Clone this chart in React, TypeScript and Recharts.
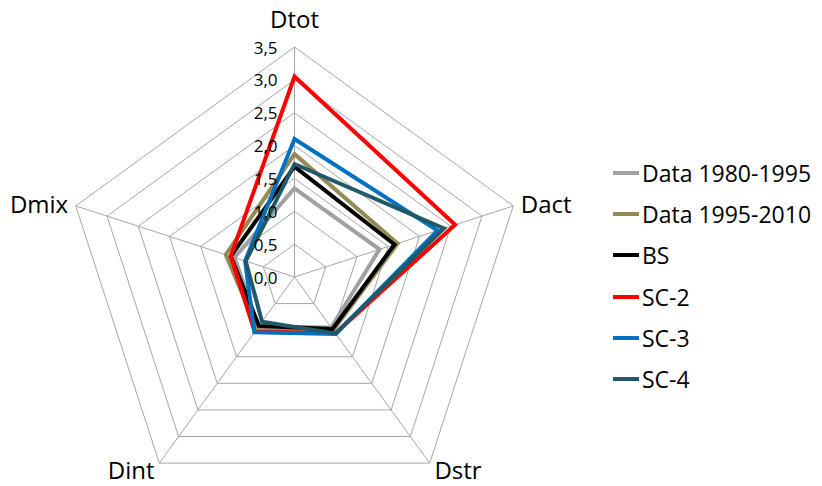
import React from 'react';
import { RadarChart, Radar, PolarGrid, PolarAngleAxis, PolarRadiusAxis } from 'recharts';

const axes = ['Dtot', 'Dact', 'Dstr', 'Dint', 'Dmix'];
const data8095 = [1.35, 1.36, 0.95, 0.93, 0.96];
const data9510 = [1.87, 1.65, 1.0, 0.97, 1.1];
const bs = [1.68, 1.6, 0.98, 0.92, 1.02];
const sc2 = [3.05, 2.57, 1.06, 1.03, 1.02];
const sc3 = [2.1, 2.29, 1.07, 1.04, 0.79];
const sc4 = [1.72, 2.39, 1.06, 0.84, 0.78];

const series = [
  { key: 'Data 1980-1995', values: data8095, color: '#a0a0a0' },
  { key: 'Data 1995-2010', values: data9510, color: '#948a54' },
  { key: 'BS', values: bs, color: '#000000' },
  { key: 'SC-2', values: sc2, color: '#ff0000' },
  { key: 'SC-3', values: sc3, color: '#0070c0' },
  { key: 'SC-4', values: sc4, color: '#215968' },
];

const chartData = axes.map((axis, i) => {
  const row: { [k: string]: number | string } = { axis };
  series.forEach(s => {
    row[s.key] = s.values[i];
  });
  return row;
});

const FONT = '"Open Sans", sans-serif';
const CX = 286.5;
const CY = 269;
const LABEL_R = 238;

function AngleTick(props: any) {
  const { x, y, payload } = props;
  const dx = x - CX;
  const dy = y - CY;
  const len = Math.sqrt(dx * dx + dy * dy) || 1;
  const lx = CX + (dx / len) * LABEL_R;
  const ly = CY + (dy / len) * LABEL_R;
  const c = dx / len;
  const anchor = c > 0.01 ? 'start' : c < -0.01 ? 'end' : 'middle';
  return (
    <text
      x={lx}
      y={anchor === 'middle' ? ly - 21 : ly}
      textAnchor={anchor}
      dominantBaseline="central"
      fontSize={24}
      fontFamily={FONT}
      fill="#000"
    >
      {payload.value}
    </text>
  );
}

function RadiusTick(props: any) {
  const { x, y, payload } = props;
  return (
    <text x={x - 17} y={y} textAnchor="end" dominantBaseline="central" fontSize={17} fontFamily={FONT} fill="#000">
      {Number(payload.value).toFixed(1).replace('.', ',')}
    </text>
  );
}

function LegendBox() {
  return (
    <div style={{ position: 'absolute', left: 605, top: 165, width: 200, fontFamily: FONT }}>
      {series.map((s, i) => (
        <div
          key={s.key}
          style={{ position: 'absolute', left: 0, top: i * 41.2 - 16, height: 32, display: 'flex', alignItems: 'center' }}
        >
          <div style={{ width: 26, height: 4, background: s.color }} />
          <span style={{ marginLeft: 3, fontSize: 23, color: '#000', whiteSpace: 'nowrap' }}>{s.key}</span>
        </div>
      ))}
    </div>
  );
}

export default function App() {
  return (
    <div style={{ position: 'relative', width: 814, height: 478 }}>
      <RadarChart
        width={814}
        height={478}
        data={chartData}
        cx={CX}
        cy={CY}
        outerRadius={230}
        margin={{ top: 0, right: 0, bottom: 0, left: 0 }}
      >
        <PolarGrid gridType="polygon" stroke="#a6a6a6" strokeWidth={1} />
        <PolarAngleAxis dataKey="axis" tick={<AngleTick />} tickLine={false} axisLine={false} />
        <PolarRadiusAxis
          type="number"
          angle={90}
          domain={[0, 3.5]}
          allowDataOverflow
          allowDecimals
          tickCount={8}
          axisLine={false}
          tickLine={false}
          tick={<RadiusTick />}
        />
        {series.map(s => (
          <Radar
            key={s.key}
            name={s.key}
            dataKey={s.key}
            stroke={s.color}
            strokeWidth={4}
            fill="none"
            fillOpacity={0}
            dot={false}
            isAnimationActive={false}
          />
        ))}
      </RadarChart>
      <LegendBox />
    </div>
  );
}
